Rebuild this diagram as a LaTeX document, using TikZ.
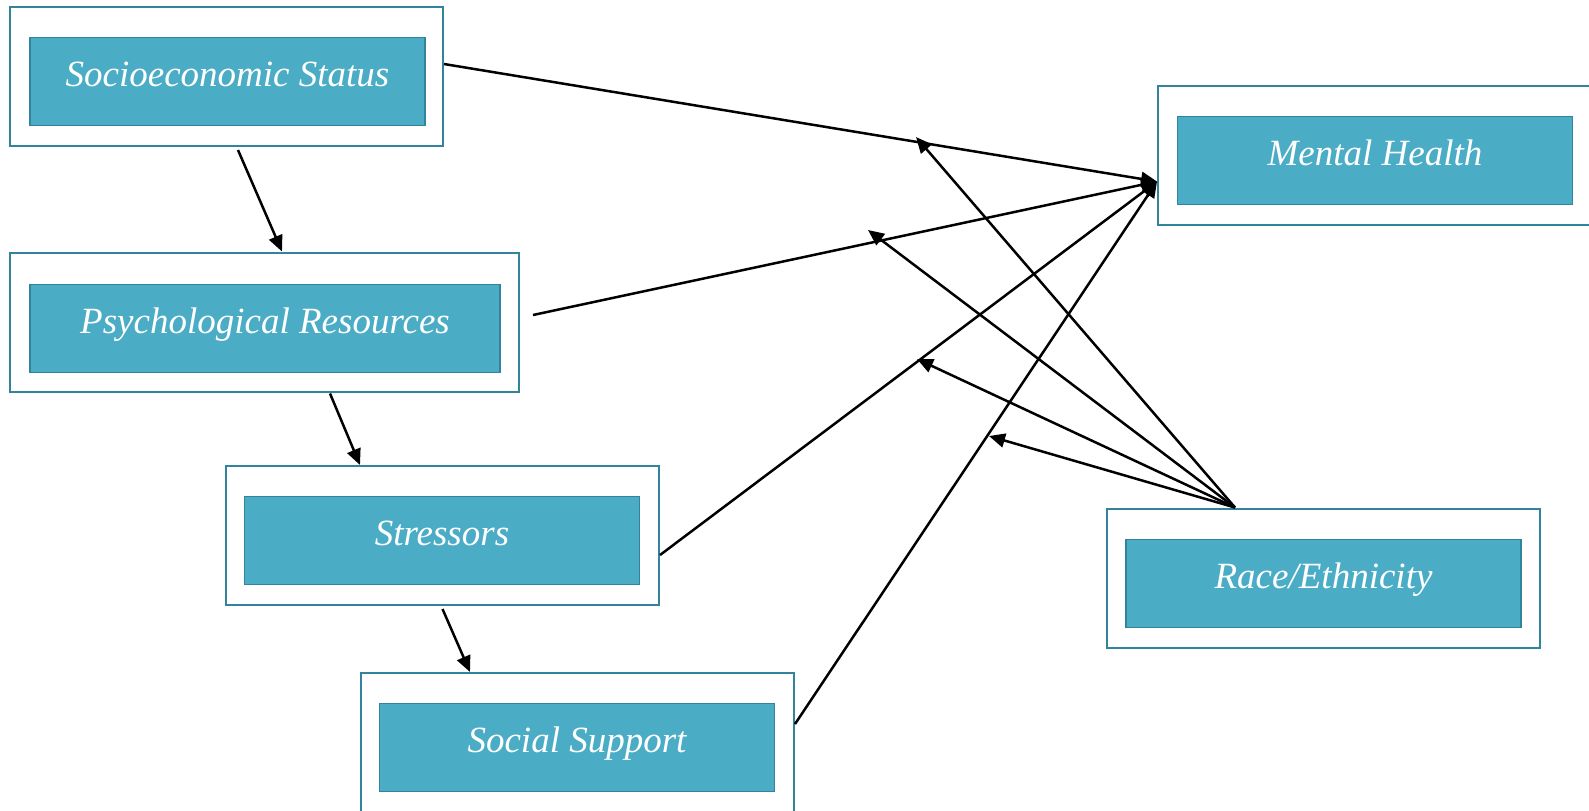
\documentclass[tikz,border=0pt]{standalone}
\usepackage{fontspec}
\setmainfont{Liberation Serif}
\usetikzlibrary{arrows.meta}
\definecolor{fillc}{HTML}{4BACC6}
\definecolor{linec}{HTML}{31849B}
\tikzstyle{outerbox} = [
  draw=linec,
  line width=1pt,
  fill=white,
  minimum width=216.5pt,
  minimum height=69.5pt,
  inner sep=0pt,
]
\tikzstyle{innerbox} = [
  draw=linec,
  line width=0.7pt,
  fill=fillc,
  text=white,
  minimum width=197.5pt,
  text height=24.5pt,
  text depth=19.5pt,
  inner sep=0pt,
  font=\fontsize{18.5}{22}\selectfont\itshape,
]
\tikzstyle{arr} = [
  -{Triangle[length=8pt,width=7pt]},
  line width=1.25pt,
]

\begin{document}
\begin{tikzpicture}[x=0.5pt,y=-0.5pt]
      \useasboundingbox (0,0) rectangle (1589,810);

      % Frames
      \node[outerbox] (ses) at (226.5,76.5) {};
      \node[outerbox, minimum width=254.5pt] (psy) at (264.5,322) {};
      \node[outerbox] (str) at (442.5,535.5) {};
      \node[outerbox] (sup) at (577.5,742.5) {};
      \node[outerbox] (mh) at (1374.5,155.5) {};
      \node[outerbox] (race) at (1323.5,578) {};

      % Boxes
      \node[innerbox] (sesin) at (227.5,81.5) {Socioeconomic Status};
      \node[innerbox, minimum width=235pt] (psyin) at (265,328.5) {Psychological Resources};
      \node[innerbox] (strin) at (442,540.5) {Stressors};
      \node[innerbox] (supin) at (577,747.5) {Social Support};
      \node[innerbox] (mhin) at (1375,160.5) {Mental Health};
      \node[innerbox] (racein) at (1323.5,583.5) {Race/Ethnicity};

      % Chain
      \draw[arr] ([xshift=5.75pt,yshift=-1.5pt]ses.south) -- ([xshift=8.75pt]psy.north);
      \draw[arr] ([xshift=32.75pt,yshift=-0.5pt]psy.south) -- ([xshift=-41.25pt]str.north);
      \draw[arr] ([yshift=-1.5pt]str.south) -- ([xshift=-53.75pt]sup.north);

      % Paths to mental health
      \coordinate (mhend) at ([yshift=-13pt]mh.west);
      \draw[arr] ([yshift=6.25pt]ses.east) -- (mhend);
      \draw[arr] ([xshift=6.5pt,yshift=3.5pt]psy.east) -- (mhend);
      \draw[arr] ([yshift=-9.75pt]str.east) -- (mhend);
      \draw[arr] ([yshift=9.25pt]sup.east) -- (mhend);

      % Moderation
      \coordinate (rtop) at ([xshift=-44.25pt]race.north);
      \coordinate (m1) at (916,137);
      \coordinate (m2) at (868,230);
      \coordinate (m3) at (917,359);
      \coordinate (m4) at (989,436);
      \foreach \m in {m1,m2,m3,m4}
          \draw[arr] (rtop) -- (\m);
    \end{tikzpicture}
\end{document}
